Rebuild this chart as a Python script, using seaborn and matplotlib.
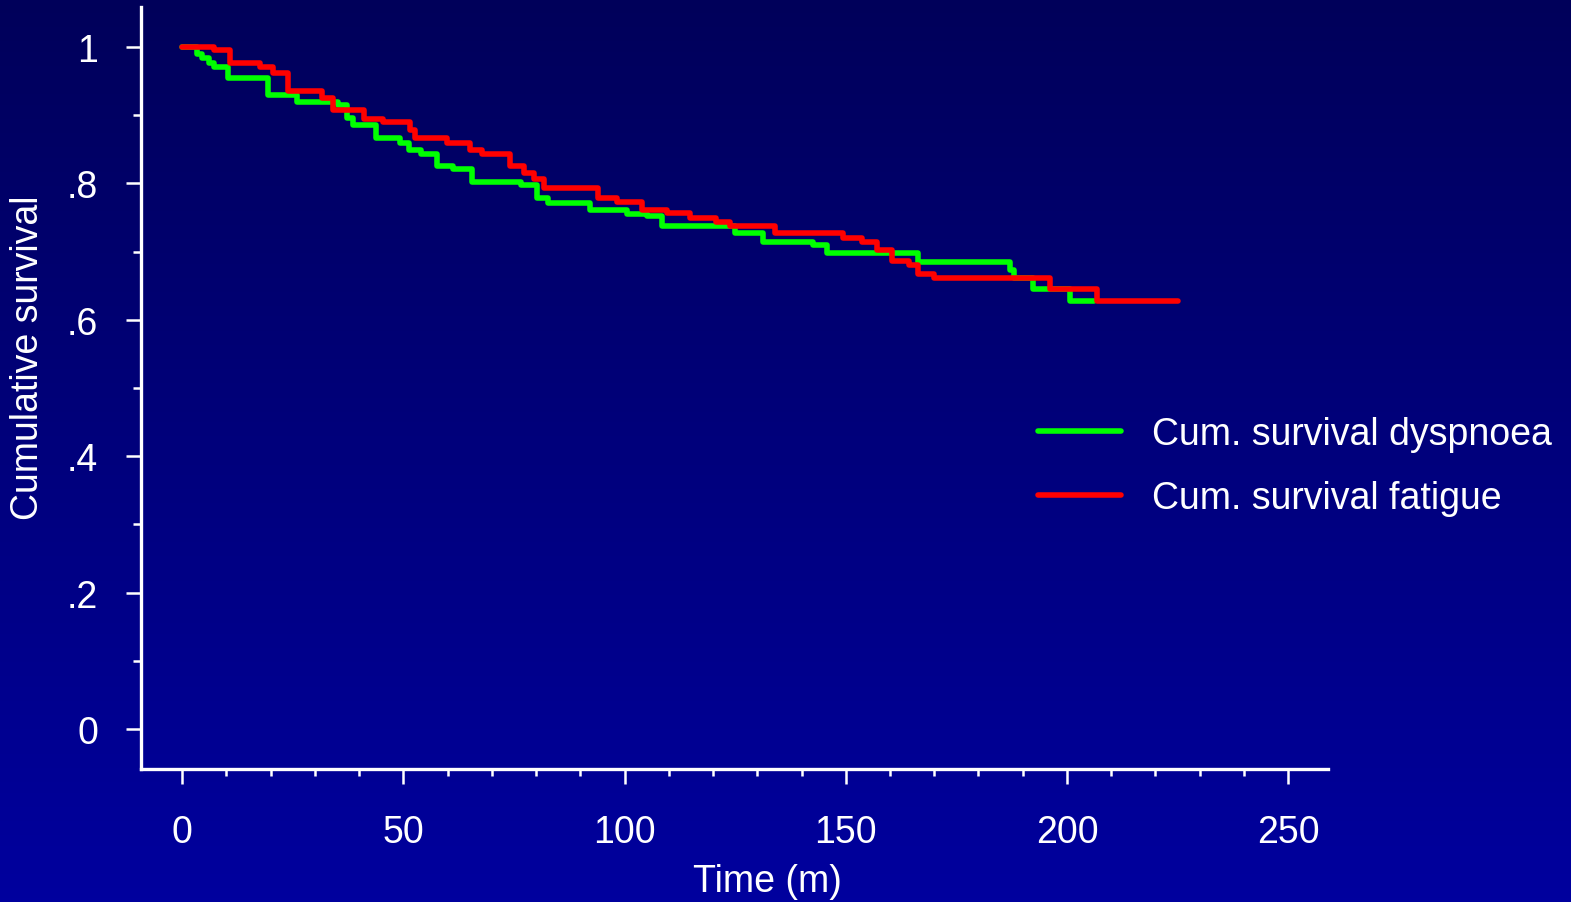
import numpy as np
import pandas as pd
import matplotlib
matplotlib.use("Agg")
import matplotlib.pyplot as plt
import seaborn as sns
from matplotlib.colors import LinearSegmentedColormap
from matplotlib.ticker import MultipleLocator, FixedLocator

# ---- data ----
dysp_time = [0, 3.3, 4.5, 6.0, 7.1, 10.3, 19.5, 25.9, 35.3, 37.3, 38.7, 43.8, 49.3,
             51.2, 54.0, 57.6, 61.3, 65.5, 76.6, 80.2, 82.8, 92.2, 100.5, 105.0,
             108.4, 125.0, 131.3, 142.6, 145.8, 166.4, 187.2, 188.0, 192.4, 200.7, 206.0]
dysp_surv = [1.0, 0.990, 0.984, 0.977, 0.971, 0.955, 0.930, 0.919, 0.915, 0.896, 0.885,
             0.867, 0.859, 0.849, 0.843, 0.825, 0.821, 0.8025, 0.797, 0.779, 0.772,
             0.761, 0.755, 0.752, 0.737, 0.728, 0.7145, 0.709, 0.6975, 0.685, 0.673,
             0.662, 0.645, 0.6276, 0.6276]

fat_time = [0, 7.1, 10.8, 17.6, 20.6, 24.0, 31.7, 34.2, 41.0, 45.5, 51.5, 52.7, 59.8,
            65.1, 67.8, 74.1, 77.2, 79.6, 81.8, 94.0, 98.3, 104.0, 109.6, 114.8,
            120.7, 123.9, 134.0, 149.4, 153.6, 157.0, 160.4, 164.3, 166.4, 170.0,
            196.2, 206.8, 225.1]
fat_surv = [1.0, 0.995, 0.977, 0.971, 0.962, 0.936, 0.925, 0.907, 0.895, 0.890, 0.878,
            0.867, 0.859, 0.849, 0.843, 0.826, 0.815, 0.806, 0.794, 0.779, 0.773,
            0.761, 0.757, 0.749, 0.744, 0.738, 0.727, 0.720, 0.7145, 0.703, 0.686,
            0.680, 0.667, 0.662, 0.645, 0.6276, 0.6276]

series_labels = ["Cum. survival dyspnoea", "Cum. survival fatigue"]
series_colors = ["#00ff00", "#ff0000"]
x_ticks = [0, 50, 100, 150, 200, 250]
y_ticks = [0, 0.2, 0.4, 0.6, 0.8, 1.0]
y_ticklabels = ["0", ".2", ".4", ".6", ".8", "1"]

df = pd.concat([
    pd.DataFrame({"time": dysp_time, "surv": dysp_surv, "group": series_labels[0]}),
    pd.DataFrame({"time": fat_time, "surv": fat_surv, "group": series_labels[1]}),
])

sns.set_theme(style="white")
plt.rcParams["font.family"] = ["Liberation Sans", "DejaVu Sans"]

W, H = 1571, 903
fig = plt.figure(figsize=(W / 100, H / 100), dpi=100)

# background gradient
bg = fig.add_axes([0, 0, 1, 1])
cmap = LinearSegmentedColormap.from_list("bg", ["#00005a", "#00009e"])
grad = np.linspace(0, 1, 256).reshape(-1, 1)
bg.imshow(grad, aspect="auto", cmap=cmap, extent=[0, 1, 0, 1], origin="upper")
bg.axis("off")

ax = fig.add_axes([141 / W, 1 - 770 / H, (1328 - 141) / W, (770 - 8) / H])
ax.set_zorder(1)
ax.patch.set_alpha(0)

sns.lineplot(data=df, x="time", y="surv", hue="group", hue_order=series_labels,
             palette=series_colors, drawstyle="steps-post", linewidth=4.0,
             estimator=None, sort=False, ax=ax)

ax.set_xlim(-9.3, 259)
ax.set_ylim(-0.0587, 1.0587)

white = "white"
for s in ["top", "right"]:
    ax.spines[s].set_visible(False)
for s in ["left", "bottom"]:
    ax.spines[s].set_color(white)
    ax.spines[s].set_linewidth(2.4)

ax.xaxis.set_major_locator(FixedLocator(x_ticks))
ax.xaxis.set_minor_locator(MultipleLocator(10))
ax.yaxis.set_major_locator(FixedLocator(y_ticks))
ax.yaxis.set_minor_locator(MultipleLocator(0.1))
ax.set_yticklabels(y_ticklabels)
ax.set_xticklabels([str(v) for v in x_ticks])

ax.tick_params(axis="both", which="both", colors=white, direction="out",
               width=1.8, labelsize=27, labelcolor=white)
ax.tick_params(axis="x", which="major", length=10.5, pad=22, bottom=True)
ax.tick_params(axis="x", which="minor", length=5, bottom=True)
ax.tick_params(axis="y", which="major", length=11, pad=20, left=True)
ax.tick_params(axis="y", which="minor", length=5.5, left=True)

ax.set_xlabel("Time (m)", fontsize=27, color=white)
ax.set_ylabel("Cumulative survival", fontsize=27, color=white)
ax.xaxis.set_label_coords((767 - 141) / (1328 - 141), (770 - 882) / (770 - 8))
ax.xaxis.label.set_va("center")
ax.yaxis.set_label_coords((28 - 141) / (1328 - 141), (770 - 358) / (770 - 8))
ax.yaxis.label.set_va("center")
ax.yaxis.label.set_ha("center")

leg = ax.legend(loc="upper left", bbox_to_anchor=(1038 / W, 1 - 417 / H),
                bbox_transform=fig.transFigure, frameon=False, fontsize=27,
                borderpad=0, borderaxespad=0, handlelength=2.2,
                handletextpad=0.85, labelspacing=0.74)
for t in leg.get_texts():
    t.set_color(white)
for l in leg.get_lines():
    l.set_linewidth(4.0)

fig.savefig("out.png", dpi=100)
